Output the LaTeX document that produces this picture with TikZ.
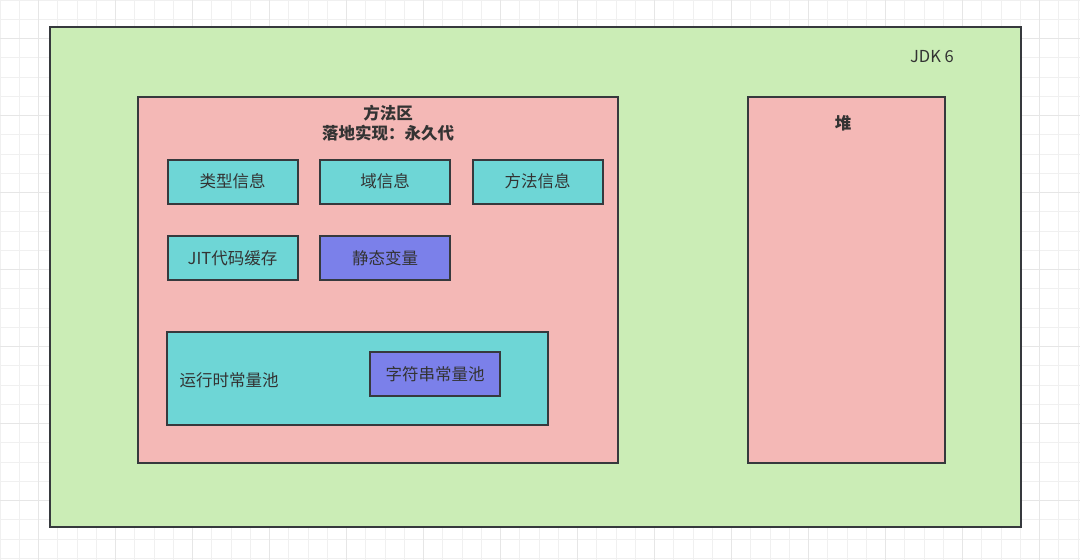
\documentclass[tikz,border=0pt]{standalone}
\usepackage{fontspec}
\setmainfont{Noto Sans CJK SC}
\usepackage{tikz}
\usepackage{xcolor}
\definecolor{jdkgreen}{HTML}{CBEDB6}
\definecolor{areapink}{HTML}{F4B8B6}
\definecolor{infoteal}{HTML}{6ED6D6}
\definecolor{varblue}{HTML}{7B80EA}
\definecolor{edge}{HTML}{36393D}
\definecolor{ink}{HTML}{333333}
\definecolor{gridminor}{HTML}{F0F0F0}
\definecolor{gridmajor}{HTML}{E6E6E6}
\tikzset{region/.style={rectangle, draw=edge, line width=2pt, inner sep=0pt}}
\tikzset{infobox/.style={rectangle, draw=edge, line width=2pt, fill=infoteal, text=ink,
    minimum width=130pt, minimum height=44pt, font=\fontsize{16.5}{19}\selectfont}}
\tikzset{label/.style={text=ink, font=\fontsize{16.5}{19}\selectfont}}
\tikzset{title/.style={text=ink, font=\fontsize{16.5}{19}\selectfont\bfseries}}

\begin{document}
\begin{tikzpicture}[x=1pt, y=-1pt]
  \useasboundingbox (0,0) rectangle (1080,560);
  \fill[white] (0,0) rectangle (1080,560);
  \foreach \k in {0,...,56} {
    \draw[gridminor, line width=1pt] (\k*19.25,0) -- (\k*19.25,560);
  }
  \foreach \k in {0,...,29} {
    \draw[gridminor, line width=1pt] (0,\k*19.25) -- (1080,\k*19.25);
  }
  \foreach \k in {0,...,13} {
    \draw[gridmajor, line width=1.5pt] (38.5+\k*77,0) -- (38.5+\k*77,560);
  }
  \foreach \k in {0,...,6} {
    \draw[gridmajor, line width=1.5pt] (0,38.5+\k*77) -- (1080,38.5+\k*77);
  }

  \node[region, fill=jdkgreen, minimum width=971pt, minimum height=500pt] (jdk) at (535.5,277) {};
  \node[label] (jdkname) at (932,57) {JDK 6};

  \node[region, fill=areapink, minimum width=480pt, minimum height=366pt] (mthd) at (378,280) {};
  \node[title] (mthdname) at (388,113) {方法区};
  \node[title] (mthdimpl) at (388,133) {落地实现：永久代};

  \node[region, fill=areapink, minimum width=197pt, minimum height=366pt] (heap) at (846.5,280) {};
  \node[title] (heapname) at (843,123) {堆};

  \node[infobox] (type) at (232.5,181.5) {类型信息};
  \node[infobox] (field) at (385,181.5) {域信息};
  \node[infobox] (method) at (537.5,181.5) {方法信息};
  \node[infobox] (jit) at (232.5,258) {JIT代码缓存};
  \node[infobox, fill=varblue] (static) at (385,258) {静态变量};

  \node[infobox, minimum width=381pt, minimum height=93pt] (pool) at (357.5,378.5) {};
  \node[label, anchor=west] (poolname) at (176,380) {运行时常量池};
  \node[infobox, fill=varblue] (strpool) at (435,374) {字符串常量池};
\end{tikzpicture}
\end{document}
